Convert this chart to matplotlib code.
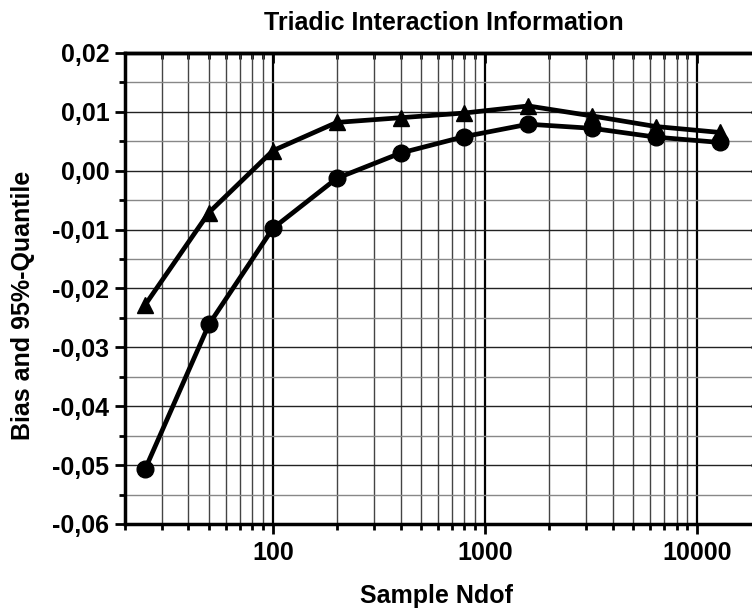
import matplotlib
matplotlib.use("Agg")
import matplotlib.pyplot as plt
from matplotlib.ticker import FixedLocator, LogLocator, NullFormatter, FuncFormatter

ndof = [25, 50, 100, 200, 400, 800, 1600, 3200, 6400, 12800]
quantile95 = [-0.0228, -0.0071, 0.0034, 0.0082, 0.0090, 0.0098, 0.0110, 0.0093, 0.0075, 0.0065]
bias = [-0.0507, -0.0261, -0.0098, -0.0013, 0.0030, 0.0058, 0.0079, 0.0072, 0.0057, 0.0048]
yticks = [-0.06, -0.05, -0.04, -0.03, -0.02, -0.01, 0.00, 0.01, 0.02]
yminor = [-0.055, -0.045, -0.035, -0.025, -0.015, -0.005, 0.005, 0.015]
xticks = [100, 1000, 10000]

plt.rcParams['font.family'] = ['Liberation Sans', 'DejaVu Sans']
plt.rcParams['font.weight'] = 'bold'

fig = plt.figure(figsize=(7.52, 6.08), dpi=100)
ax = fig.add_axes([0.1656, 0.1382, 0.8464, 0.7747])

ax.plot(ndof, quantile95, color='black', lw=3.4, marker='^', ms=12, zorder=3, clip_on=False)
ax.plot(ndof, bias, color='black', lw=3.4, marker='o', ms=12, zorder=3, clip_on=False)

ax.set_xscale('log')
ax.set_xlim(20, 20000)
ax.set_ylim(-0.06, 0.02)

ax.xaxis.set_major_locator(FixedLocator(xticks))
ax.xaxis.set_minor_locator(LogLocator(base=10, subs=range(2, 10)))
ax.xaxis.set_minor_formatter(NullFormatter())
ax.xaxis.set_major_formatter(FuncFormatter(lambda v, p: f"{int(round(v))}"))

ax.yaxis.set_major_locator(FixedLocator(yticks))
ax.yaxis.set_minor_locator(FixedLocator(yminor))
ax.yaxis.set_major_formatter(FuncFormatter(lambda v, p: f"{v:.2f}".replace('.', ',').replace('-0,00', '0,00')))

ax.grid(which='major', axis='x', color='black', lw=1.6)
ax.grid(which='minor', axis='x', color='#444444', lw=1.0)
ax.grid(which='major', axis='y', color='#222222', lw=1.0)
ax.grid(which='minor', axis='y', color='#888888', lw=1.0)
ax.set_axisbelow(True)

for s in ax.spines.values():
    s.set_linewidth(2.5)

ax.tick_params(axis='x', which='major', direction='out', length=7, width=2, labelsize=18, pad=5)
ax.tick_params(axis='x', which='minor', direction='out', length=4, width=2)
ax.tick_params(axis='y', which='major', direction='out', length=7, width=2, labelsize=18, pad=4)
ax.tick_params(axis='y', which='minor', direction='out', length=4, width=2)

top = ax.secondary_xaxis('top')
top.xaxis.set_major_locator(FixedLocator(xticks))
top.xaxis.set_minor_locator(LogLocator(base=10, subs=range(2, 10)))
top.xaxis.set_major_formatter(NullFormatter())
top.xaxis.set_minor_formatter(NullFormatter())
top.tick_params(which='major', direction='in', length=7, width=2)
top.tick_params(which='minor', direction='in', length=4, width=2)
top.spines['top'].set_linewidth(2.5)

right = ax.secondary_yaxis('right')
right.yaxis.set_major_locator(FixedLocator(yticks))
right.yaxis.set_minor_locator(FixedLocator(yminor))
right.yaxis.set_major_formatter(NullFormatter())
right.tick_params(which='major', direction='in', length=7, width=2)
right.tick_params(which='minor', direction='in', length=4, width=2)
right.spines['right'].set_linewidth(2.5)

fig.text(0.580, 1 - 603 / 608, 'Sample Ndof', fontsize=18, fontweight='bold',
         ha='center', va='baseline')
fig.text(0.031, 0.498, 'Bias and 95%-Quantile', fontsize=18, fontweight='bold',
         ha='center', va='center', rotation=90)
fig.text(0.590, 1 - 30 / 608, 'Triadic Interaction Information', fontsize=18, fontweight='bold',
         ha='center', va='baseline')

fig.savefig('out.png', dpi=100)
